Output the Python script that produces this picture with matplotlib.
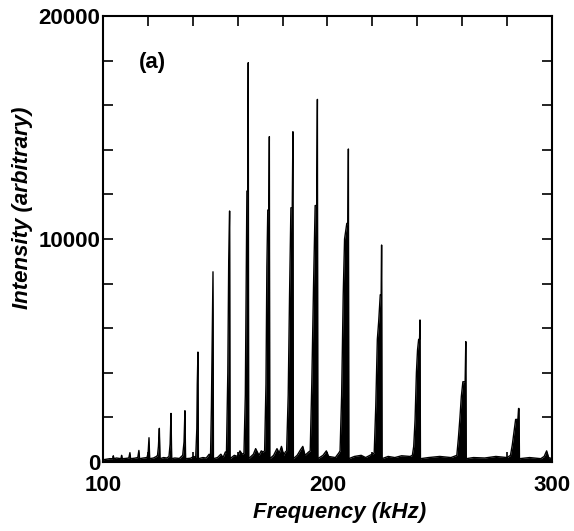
import matplotlib
matplotlib.use("Agg")
import matplotlib.pyplot as plt
from matplotlib.ticker import MultipleLocator, FixedLocator

plt.rcParams['font.family'] = ['Liberation Sans', 'DejaVu Sans']
plt.rcParams['font.weight'] = 'bold'

# spectrum vertices (kHz, arbitrary intensity)
freq_khz = [
    100.0, 103.0, 104.3, 104.6, 104.9, 106.0, 108.0, 108.3, 108.6, 110.0,
    111.5, 112.0, 112.3, 114.0, 115.5, 116.0, 116.3, 118.0,
    119.6, 120.1, 120.5, 120.8, 122.5, 123.8,
    124.3, 124.7, 125.1, 125.4, 127.0, 128.5,
    129.4, 129.9, 130.3, 130.6, 132.0, 134.0,
    135.5, 136.1, 136.5, 136.8, 139.0, 140.5,
    141.3, 141.8, 142.0, 142.3, 142.5, 144.5, 146.0, 147.3,
    147.9, 148.3, 148.6, 149.0, 149.2, 151.0, 152.5, 153.5, 154.5,
    155.0, 155.6, 156.0, 156.4, 156.6, 158.5, 160.0, 161.0, 162.0,
    162.8, 163.4, 163.8, 164.1, 164.5, 164.7, 164.9, 167.0, 168.0, 169.5, 170.5, 171.3,
    172.0, 172.6, 173.0, 173.4, 173.9, 174.1, 174.3, 176.0, 177.5, 178.5, 179.5, 180.5, 181.2,
    181.8, 182.5, 183.1, 183.7, 184.3, 184.6, 184.8, 186.5, 188.0, 189.0, 190.0, 191.6,
    192.3, 193.0, 193.8, 194.5, 195.2, 195.5, 195.7, 198.0, 199.5, 200.5, 203.5, 205.0,
    205.6, 206.3, 207.0, 207.6, 208.6, 209.1, 209.3, 209.5, 212.0, 215.0, 217.0, 219.8,
    220.8, 221.5, 222.2, 222.8, 223.5, 223.9, 224.1, 224.3, 227.0, 230.0, 233.0, 236.8,
    237.8, 238.4, 239.0, 239.6, 240.1, 240.6, 241.0, 241.2, 241.4, 245.0, 250.0, 255.0,
    257.6, 258.3, 259.0, 259.6, 260.3, 261.3, 261.6, 261.8, 265.0, 270.0, 275.0, 280.0,
    281.5, 282.3, 283.0, 283.8, 284.8, 285.1, 285.3, 285.5, 290.0, 295.0,
    296.5, 297.6, 298.5, 300.0,
]
intensity = [
    100, 150, 150, 280, 150, 180, 150, 300, 150, 160,
    180, 420, 150, 170, 200, 520, 150, 180,
    200, 400, 1090, 150, 180, 250,
    300, 700, 1510, 150, 200, 180,
    250, 800, 2180, 150, 180, 160,
    300, 900, 2300, 150, 170, 250,
    200, 1500, 3500, 4930, 150, 200, 180, 350,
    250, 2500, 5000, 8530, 150, 200, 350, 200, 450,
    400, 4000, 9000, 11256, 150, 300, 250, 500, 350,
    400, 3000, 8400, 12150, 12150, 17906, 150, 350, 600, 300, 500, 450,
    500, 3500, 8760, 11300, 11300, 14590, 150, 300, 600, 400, 700, 300, 450,
    500, 3000, 7500, 11400, 11400, 14810, 150, 300, 550, 700, 300, 450,
    500, 3500, 8000, 11500, 11500, 16260, 150, 300, 500, 250, 200, 400,
    500, 3000, 7500, 10000, 10700, 10700, 14036, 150, 250, 300, 200, 350,
    400, 2500, 5500, 6300, 7500, 7500, 9730, 150, 250, 200, 280, 250,
    300, 700, 1880, 4000, 5020, 5500, 5500, 6370, 150, 200, 250, 200,
    300, 1070, 2000, 2930, 3600, 3600, 5400, 150, 200, 180, 250, 200,
    300, 760, 1290, 1910, 1910, 2400, 2400, 150, 200, 150,
    250, 500, 200, 150,
]

x_ticks = [100, 200, 300]
y_ticks = [0, 10000, 20000]

fig = plt.figure(figsize=(5.74, 5.31), dpi=100)
ax = fig.add_axes([0.1794, 0.1299, 0.7823, 0.8400])

ax.fill_between(freq_khz, 0, intensity, color='black', linewidth=0)
ax.plot(freq_khz, intensity, color='black', lw=1.0)

ax.set_xlim(100, 300)
ax.set_ylim(0, 20000)
ax.xaxis.set_major_locator(FixedLocator(x_ticks))
ax.xaxis.set_minor_locator(MultipleLocator(20))
ax.yaxis.set_major_locator(FixedLocator(y_ticks))
ax.yaxis.set_minor_locator(MultipleLocator(2000))

for sp in ax.spines.values():
    sp.set_linewidth(1.5)
ax.tick_params(which='both', direction='in', top=True, right=True,
               length=7, width=1.2, labelsize=16)
ax.tick_params(axis='x', pad=9)
ax.tick_params(axis='y', pad=2)

ax.set_xlabel('Frequency (kHz)', fontsize=16, fontweight='bold', style='italic')
ax.set_ylabel('Intensity (arbitrary)', fontsize=16, fontweight='bold', style='italic')
ax.xaxis.set_label_coords(0.526, -0.09)
ax.yaxis.set_label_coords(-0.156, 0.571)

ax.text(116, 17900, '(a)', fontsize=16, fontweight='bold', va='center', ha='left')

fig.savefig('out.png', dpi=100)
